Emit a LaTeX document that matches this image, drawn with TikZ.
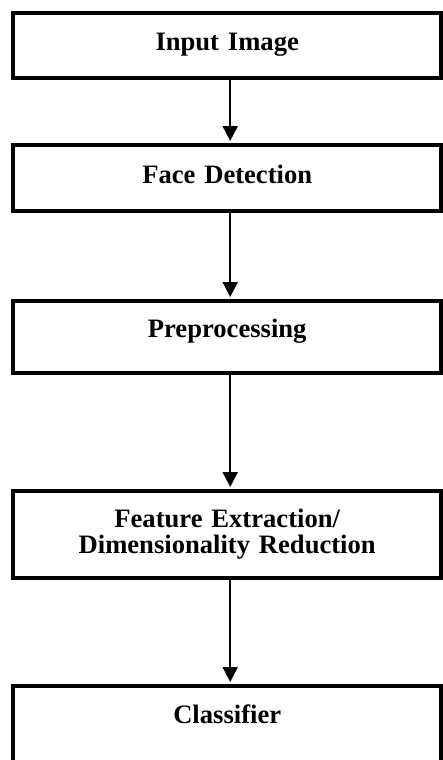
\documentclass[tikz,border=0pt]{standalone}
\usepackage{fontspec}
\setmainfont{Liberation Serif}
\usetikzlibrary{arrows.meta,positioning}
\tikzset{
	stage/.style={draw, line width=2pt, outer sep=0pt, inner sep=0pt,
		text width=214.25pt, align=center,
		font=\fontsize{13.3pt}{13pt}\selectfont\bfseries,
		text height=18.5pt, text depth=14pt},
	flow/.style={-{Triangle[length=7.5pt,width=7.5pt]}, line width=1pt, shorten >=2pt},
}
\begin{document}
\begin{tikzpicture}
      \useasboundingbox (0,0) rectangle (221.5pt,-380pt);
      \clip (0,0) rectangle (221.5pt,-380pt);

      \node[stage, anchor=north] (input) at (113.6pt,-6.5pt) {Input Image};
      \node[stage, below=33.5pt of input, text height=19pt] (face) {Face Detection};
      \node[stage, below=45pt of face, text height=18pt, text depth=18pt] (prep) {Preprocessing};
      \node[stage, below=59pt of prep, text height=18pt, text depth=25.5pt] (feat) {Feature Extraction/\\Dimensionality Reduction};
      \node[stage, below=54pt of feat, text depth=40pt] (clf) {Classifier};

      \draw[flow] ([xshift=1.5pt]input.south) -- ([xshift=1.5pt]face.north);
      \draw[flow] ([xshift=1.5pt]face.south) -- ([xshift=1.5pt]prep.north);
      \draw[flow] ([xshift=1.5pt]prep.south) -- ([xshift=1.5pt]feat.north);
      \draw[flow] ([xshift=1.5pt]feat.south) -- ([xshift=1.5pt]clf.north);
\end{tikzpicture}
\end{document}
